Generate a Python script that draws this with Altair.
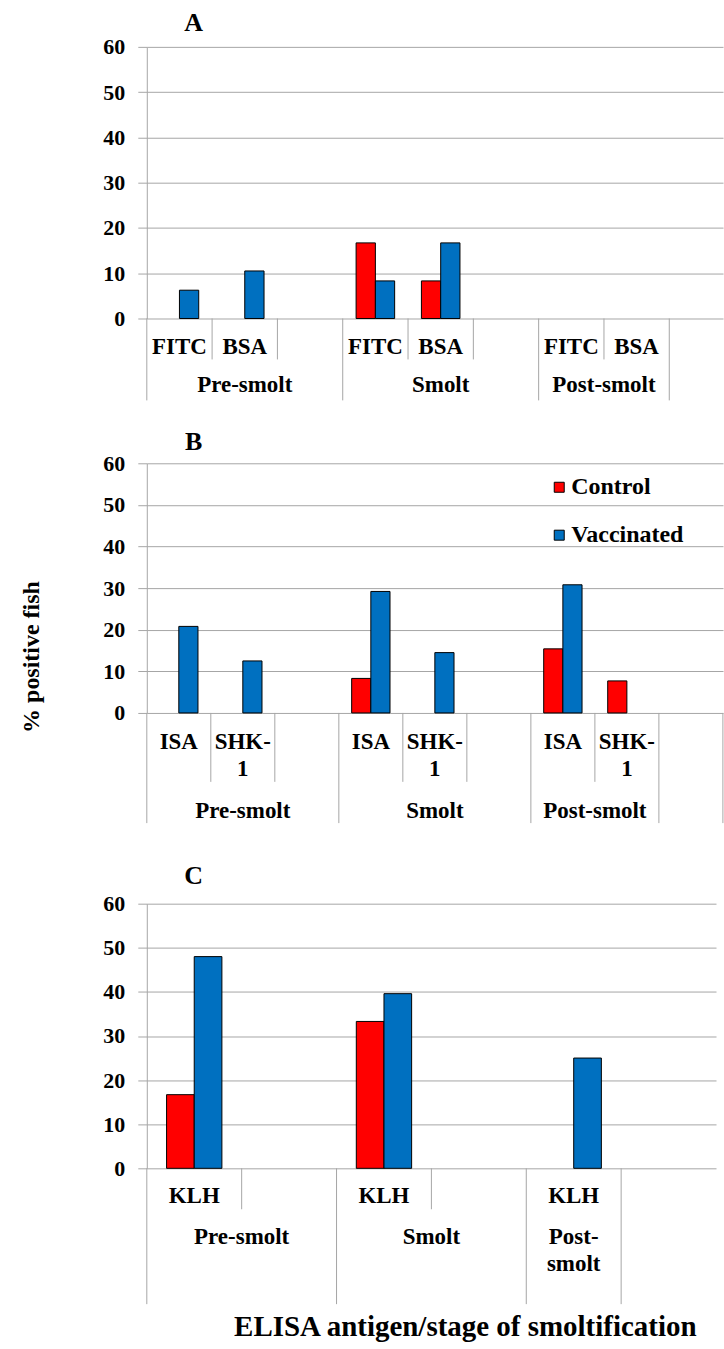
import altair as alt
import pandas as pd

FONT = "Liberation Serif"
GROUPS = ["Control", "Vaccinated"]
COLORS = ["#FF0000", "#0070C0"]
GRID = "#A6A6A6"
Y_TICKS = [0, 10, 20, 30, 40, 50, 60]

STAGES = ["Pre-smolt", "Smolt", "Post-smolt"]

# ---- Panel A : FITC / BSA ----
A_slots = [["FITC", "BSA", ""], ["FITC", "BSA", ""], ["FITC", "BSA"]]
A_control = [0, 0, 16.7, 8.3, 0, 0]
A_vaccinated = [6.25, 10.5, 8.3, 16.7, 0, 0]

# ---- Panel B : ISA / SHK-1 ----
B_stages = ["Pre-smolt", "Smolt", "Post-smolt", ""]
B_slots = [["ISA", "SHK-1", ""], ["ISA", "SHK-1", ""], ["ISA", "SHK-1"], [""]]
B_control = [0, 0, 8.3, 0, 15.4, 7.7]
B_vaccinated = [20.8, 12.5, 29.2, 14.5, 30.8, 0]

# ---- Panel C : KLH ----
C_slots = [["KLH", ""], ["KLH", ""], ["KLH"]]
C_control = [16.7, 33.3, 0]
C_vaccinated = [48.0, 39.6, 25.0]

GEOM = {
    "A": dict(step=65.4, bar=19.3, width=577, plot_h=272, slot_h=417, title_y=-24,
              lab_y=307.5, stage_y=345.7, short_end=313, long_end=354, wrap=[]),
    "B": dict(step=64.1, bar=19.2, width=577, plot_h=250, slot_h=441, title_y=-21,
              lab_y=286.6, stage_y=354.9, short_end=319, long_end=360.3, wrap=["SHK-1"]),
    "C": dict(step=95.0, bar=27.7, width=570, plot_h=265, slot_h=265, title_y=-27.3,
              lab_y=299.6, stage_y=340.6, short_end=306, long_end=401, wrap=["Post-smolt"]),
}


def wrap(txt, g):
    return txt.replace("-", "-\n") if txt in g["wrap"] else txt


def text_mark(size, **kw):
    return dict(font=FONT, fontWeight="bold", fontSize=size, color="black", **kw)


def panel(letter, stages, slots, control, vaccinated, legend=False, extras=()):
    g = GEOM[letter]
    keys, short_keys, long_keys, labels, stage_rows, bars = [], [], [], [], [], []
    vi = 0
    for si, (stage, names) in enumerate(zip(stages, slots)):
        for j, name in enumerate(names):
            k = f"s{si}_{j}"
            keys.append(k)
            (long_keys if j == 0 else short_keys).append(k)
            if name:
                labels.append({"key": k, "label": wrap(name, g)})
                for grp, vals in zip(GROUPS, (control, vaccinated)):
                    bars.append({"key": k, "group": grp, "value": vals[vi]})
                vi += 1
        n = len(names)
        if stage:
            stage_rows.append({"key": f"s{si}_{n // 2}", "label": wrap(stage, g),
                               "bp": 0.5 if n % 2 else 0.0})

    n_slots = len(keys)
    po = max((g["width"] / g["step"] - n_slots) / 2, 0)
    xs = alt.Scale(domain=keys, paddingInner=0, paddingOuter=po, align=0, round=False)
    po_bar = (g["step"] / g["bar"] - 2) / 2

    color_legend = None
    if legend:
        color_legend = alt.Legend(
            title=None, orient="none", legendX=401, legendY=12, direction="vertical",
            symbolType="square", symbolSize=100, symbolStrokeColor="black",
            symbolStrokeWidth=1, symbolOpacity=1, labelFont=FONT, labelFontSize=24,
            labelFontWeight="bold", labelColor="black", labelOffset=0,
            rowPadding=24, padding=0)

    bar_layer = alt.Chart(pd.DataFrame(bars)).transform_filter("datum.value > 0").mark_bar(
        stroke="black", strokeWidth=1
    ).encode(
        x=alt.X("key:N", scale=xs, axis=None),
        xOffset=alt.XOffset("group:N", scale=alt.Scale(domain=GROUPS, paddingOuter=po_bar,
                                                       paddingInner=0)),
        y=alt.Y("value:Q",
                scale=alt.Scale(domain=[0, 60], range=[g["plot_h"], 0], nice=False),
                axis=alt.Axis(values=Y_TICKS, title=None, grid=True, gridColor=GRID,
                              domainColor=GRID, tickColor=GRID, tickSize=9,
                              labelPadding=13, labelFont=FONT, labelFontSize=22,
                              labelFontWeight="bold", labelColor="black")),
        color=alt.Color("group:N", scale=alt.Scale(domain=GROUPS, range=COLORS),
                        legend=color_legend),
    )

    def rules(klist, end, bp):
        return alt.Chart(pd.DataFrame({"key": klist})).mark_rule(
            color=GRID, strokeWidth=1
        ).encode(
            x=alt.X("key:N", scale=xs, axis=None, bandPosition=bp),
            y=alt.value(g["plot_h"]),
            y2=alt.value(end),
        )

    layers = [
        bar_layer,
        rules(short_keys, g["short_end"], 0),
        rules(long_keys, g["long_end"], 0),
        rules([keys[-1]], g["long_end"], 1),
        alt.Chart(pd.DataFrame(labels)).mark_text(
            **text_mark(23, baseline="alphabetic", align="center", lineBreak="\n",
                        lineHeight=27)
        ).encode(x=alt.X("key:N", scale=xs, axis=None, bandPosition=0.5),
                 y=alt.value(g["lab_y"]), text="label:N"),
    ]
    sdf = pd.DataFrame(stage_rows)
    for bp in sorted(sdf["bp"].unique()):
        layers.append(
            alt.Chart(sdf[sdf["bp"] == bp]).mark_text(
                **text_mark(23, baseline="alphabetic", align="center", lineBreak="\n",
                            lineHeight=27)
            ).encode(x=alt.X("key:N", scale=xs, axis=None, bandPosition=float(bp)),
                     y=alt.value(g["stage_y"]), text="label:N")
        )
    layers.append(
        alt.Chart(pd.DataFrame({"t": [letter]})).mark_text(
            **text_mark(26, baseline="middle", align="center")
        ).encode(x=alt.value(47), y=alt.value(g["title_y"]), text="t:N")
    )
    layers.extend(extras)
    return alt.layer(*layers).properties(width=g["width"], height=g["slot_h"])


y_title = alt.Chart(pd.DataFrame({"t": ["% positive fish"]})).mark_text(
    **text_mark(24, baseline="middle", align="center", angle=270)
).encode(x=alt.value(-115), y=alt.value(194), text="t:N")

x_title = alt.Chart(pd.DataFrame({"t": ["ELISA antigen/stage of smoltification"]})).mark_text(
    **text_mark(29, baseline="middle", align="center")
).encode(x=alt.value(319), y=alt.value(424), text="t:N")

pA = panel("A", STAGES, A_slots, A_control, A_vaccinated)
pB = panel("B", B_stages, B_slots, B_control, B_vaccinated, legend=True, extras=[y_title])
pC = panel("C", STAGES, C_slots, C_control, C_vaccinated, extras=[x_title])

chart = alt.vconcat(pA, pB, pC, spacing=0, bounds="flush").resolve_scale(
    x="independent", y="independent", color="independent", xOffset="independent"
).properties(
    padding={"left": 20, "top": 9, "right": 0, "bottom": 5},
    background="white",
).configure_view(stroke=None)

chart.save("out.html", embed_options={"renderer": "svg", "actions": False})
